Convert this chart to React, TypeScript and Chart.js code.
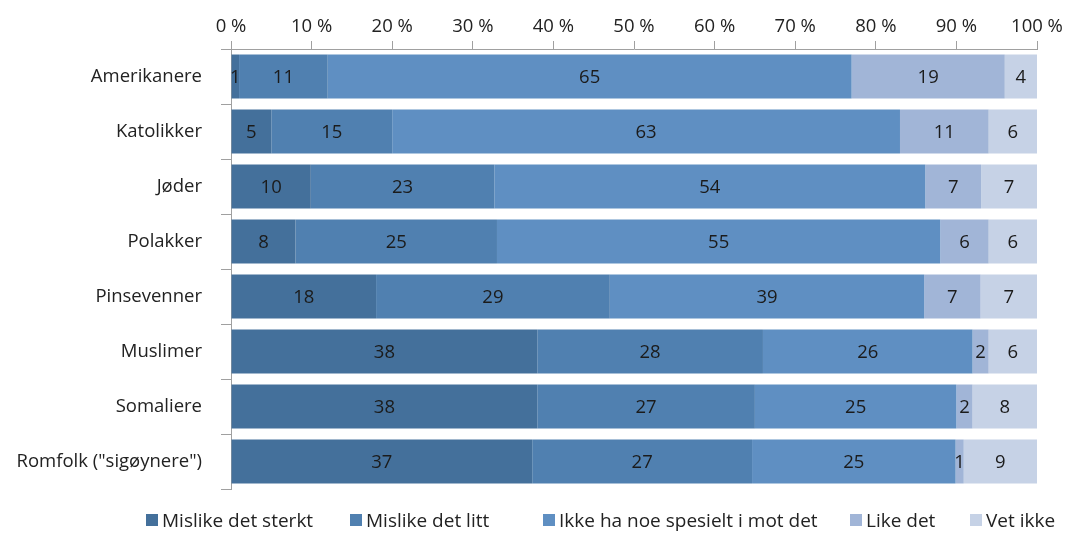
import React, { useEffect, useRef } from "react";
import { Chart, registerables } from "chart.js";

Chart.register(...registerables);

const categories = [
  "Amerikanere",
  "Katolikker",
  "Jøder",
  "Polakker",
  "Pinsevenner",
  "Muslimer",
  "Somaliere",
  'Romfolk ("sigøynere")',
];

const seriesNames = [
  "Mislike det sterkt",
  "Mislike det litt",
  "Ikke ha noe spesielt i mot det",
  "Like det",
  "Vet ikke",
];

const misliketSterkt = [1, 5, 10, 8, 18, 38, 38, 37];
const misliketLitt = [11, 15, 23, 25, 29, 28, 27, 27];
const ikkeImot = [65, 63, 54, 55, 39, 26, 25, 25];
const likeDet = [19, 11, 7, 6, 7, 2, 2, 1];
const vetIkke = [4, 6, 7, 6, 7, 6, 8, 9];

const colors = ["#44709B", "#5080B0", "#5F8FC2", "#A1B5D7", "#C6D2E6"];

const legendLefts = [146, 350, 543, 850, 970];

const FONT = "'Open Sans', Lato, sans-serif";

export default function App() {
  const ref = useRef<HTMLCanvasElement | null>(null);

  useEffect(() => {
    document.body.style.margin = "0";
    const raw = [misliketSterkt, misliketLitt, ikkeImot, likeDet, vetIkke];
    const sums = categories.map((_, i) => raw.reduce((s, arr) => s + arr[i], 0));
    const datasets = raw.map((arr, k) => ({
      label: seriesNames[k],
      data: arr.map((v, i) => (v / sums[i]) * 100),
      raw: arr,
      backgroundColor: colors[k],
      borderWidth: 0,
      barPercentage: 0.8,
      categoryPercentage: 1.0,
    }));

    const labelPlugin = {
      id: "segLabels",
      afterDatasetsDraw(chart: any) {
        const ctx = chart.ctx;
        ctx.save();
        ctx.font = `18.5px ${FONT}`;
        ctx.fillStyle = "#1b1b1b";
        ctx.textAlign = "center";
        ctx.textBaseline = "middle";
        chart.data.datasets.forEach((ds: any, di: number) => {
          const meta = chart.getDatasetMeta(di);
          meta.data.forEach((el: any, i: number) => {
            const cx = (el.x + el.base) / 2;
            ctx.fillText(String(ds.raw[i]), cx, el.y + 1);
          });
        });
        ctx.restore();
      },
    };

    const chart = new Chart(ref.current as HTMLCanvasElement, {
      type: "bar",
      data: { labels: categories, datasets: datasets as any },
      plugins: [labelPlugin],
      options: {
        indexAxis: "y",
        animation: false,
        responsive: false,
        maintainAspectRatio: false,
        layout: { padding: { left: 0, right: 42, top: 0, bottom: 44 } },
        scales: {
          x: {
            position: "top",
            stacked: true,
            min: 0,
            max: 100,
            ticks: {
              stepSize: 10,
              callback: (v: any) => `${v} %`,
              font: { family: FONT, size: 18.5 },
              color: "#222",
              padding: 3,
              maxRotation: 0,
            },
            grid: {
              drawOnChartArea: false,
              drawTicks: true,
              tickLength: 8,
              color: "#A0A0A0",
            },
            border: { display: true, color: "#A0A0A0" },
            afterFit: (scale: any) => {
              scale.height = 49;
            },
          },
          y: {
            stacked: true,
            ticks: {
              font: { family: FONT, size: 18.5 },
              color: "#222",
              padding: 19,
            },
            grid: {
              offset: true,
              drawOnChartArea: false,
              drawTicks: true,
              tickLength: 10,
              color: "#A0A0A0",
            },
            border: { display: true, color: "#A0A0A0" },
            afterFit: (scale: any) => {
              scale.width = 231;
            },
          },
        },
        plugins: {
          legend: { display: false },
          tooltip: { enabled: false },
        },
      },
    });
    return () => chart.destroy();
  }, []);

  return (
    <div style={{ width: 1079, height: 533, position: "relative", fontFamily: FONT }}>
      <canvas ref={ref} width={1079} height={533} style={{ display: "block" }} />
      {seriesNames.map((name, k) => (
        <div
          key={name}
          style={{
            position: "absolute",
            left: legendLefts[k],
            top: 508,
            height: 24,
            display: "flex",
            alignItems: "center",
            whiteSpace: "nowrap",
            fontSize: 19,
            color: "#222",
          }}
        >
          <span
            style={{
              display: "inline-block",
              width: 12,
              height: 12,
              background: colors[k],
              marginRight: 4,
            }}
          />
          <span>{name}</span>
        </div>
      ))}
    </div>
  );
}
